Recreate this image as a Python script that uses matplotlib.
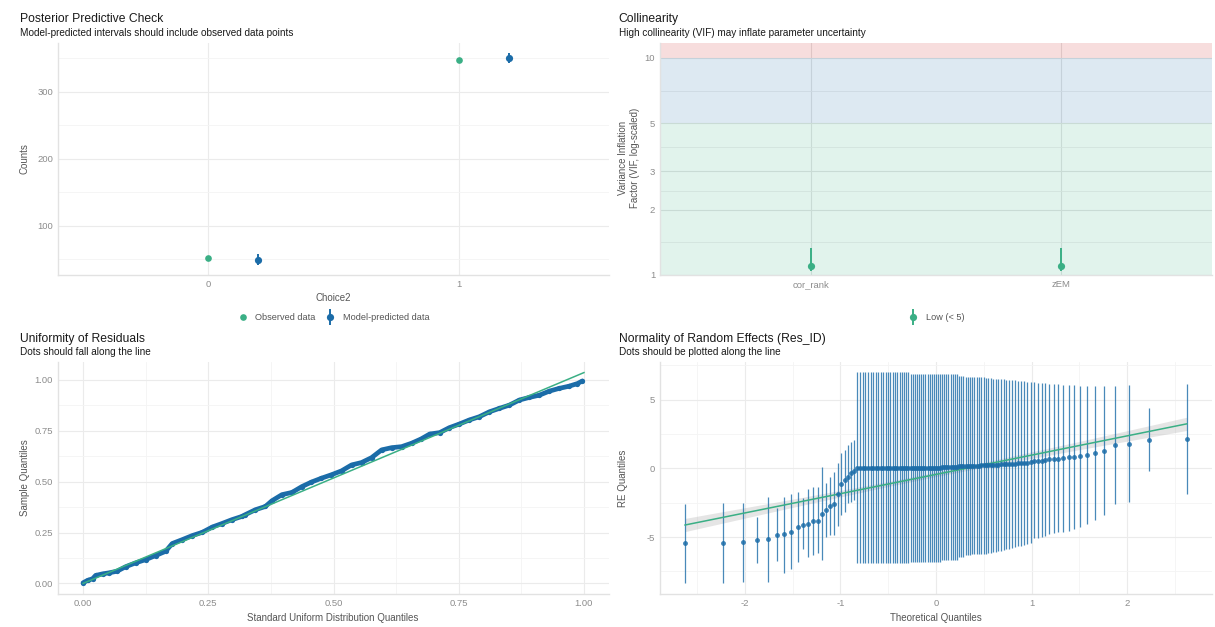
import matplotlib
matplotlib.use("Agg")
import matplotlib.pyplot as plt
from matplotlib.lines import Line2D
from matplotlib.legend_handler import HandlerTuple
from matplotlib.ticker import NullFormatter

plt.rcParams['font.family'] = ['Liberation Sans', 'DejaVu Sans']
plt.rcParams['axes.unicode_minus'] = False

# ---------------- data ----------------
# Panel 1: posterior predictive check
ppc_categories = ["0", "1"]
ppc_observed = [52, 347]
ppc_pred_mean = [49, 350]
ppc_pred_low = [41, 343]
ppc_pred_high = [57, 358]

# Panel 2: collinearity
vif_terms = ["cor_rank", "zEM"]
vif_values = [1.10, 1.10]
vif_low = [1.04, 1.04]
vif_high = [1.33, 1.33]
vif_ticks = [1, 2, 3, 5, 10]

# Panel 3: uniformity of residuals (QQ vs uniform)
unif_x = [0.000, 0.009, 0.019, 0.025, 0.039, 0.052, 0.068, 0.085, 0.105, 0.125,
          0.145, 0.165, 0.178, 0.198, 0.218, 0.238, 0.258, 0.277, 0.297, 0.317,
          0.324, 0.344, 0.364, 0.377, 0.397, 0.417, 0.437, 0.456, 0.476, 0.496,
          0.516, 0.536, 0.556, 0.576, 0.596, 0.616, 0.636, 0.656, 0.675, 0.692,
          0.712, 0.731, 0.751, 0.771, 0.791, 0.811, 0.831, 0.851, 0.871, 0.891,
          0.911, 0.931, 0.950, 0.970, 0.987, 0.997]
unif_y = [0.003, 0.015, 0.023, 0.039, 0.047, 0.052, 0.060, 0.082, 0.101, 0.117,
          0.137, 0.158, 0.196, 0.215, 0.235, 0.251, 0.277, 0.294, 0.313, 0.329,
          0.338, 0.362, 0.378, 0.406, 0.436, 0.447, 0.476, 0.498, 0.517, 0.534,
          0.553, 0.582, 0.594, 0.618, 0.656, 0.667, 0.672, 0.689, 0.710, 0.734,
          0.741, 0.765, 0.783, 0.803, 0.819, 0.843, 0.860, 0.876, 0.901, 0.914,
          0.925, 0.945, 0.958, 0.969, 0.982, 0.995]
unif_line_x = [0.0, 1.0]
unif_line_y = [0.0, 1.036]

# Panel 4: normality of random effects
re_x = [-2.624, -2.225, -2.019, -1.874, -1.761, -1.666, -1.584, -1.512, -1.447, -1.388,
        -1.333, -1.282, -1.234, -1.188, -1.145, -1.105, -1.065, -1.027, -0.991, -0.956,
        -0.922, -0.889, -0.857, -0.826, -0.796, -0.766, -0.737, -0.709, -0.681, -0.654,
        -0.627, -0.601, -0.575, -0.549, -0.524, -0.499, -0.475, -0.451, -0.427, -0.403,
        -0.380, -0.356, -0.333, -0.311, -0.288, -0.265, -0.243, -0.221, -0.199, -0.176,
        -0.154, -0.131, -0.109, -0.087, -0.065, -0.044, -0.022, 0.000,
        0.022, 0.044, 0.065, 0.087, 0.109, 0.131, 0.154, 0.176, 0.199, 0.221,
        0.243, 0.265, 0.288, 0.311, 0.333, 0.356, 0.380, 0.403, 0.427, 0.451,
        0.475, 0.499, 0.524, 0.549, 0.575, 0.601, 0.627, 0.654, 0.681, 0.709,
        0.737, 0.766, 0.796, 0.826, 0.857, 0.889, 0.922, 0.956, 0.991, 1.027,
        1.065, 1.105, 1.145, 1.188, 1.234, 1.282, 1.333, 1.388, 1.447, 1.512,
        1.584, 1.666, 1.761, 1.874, 2.019, 2.225, 2.624]
re_y = [-5.45, -5.45, -5.38, -5.23, -5.16, -4.82, -4.80, -4.63, -4.27, -4.10,
        -4.05, -3.83, -3.81, -3.30, -3.03, -2.74, -2.59, -1.87, -1.16, -0.85,
        -0.61, -0.32, -0.17,
        0.05, 0.05, 0.05, 0.05, 0.05, 0.05, 0.05, 0.05, 0.05, 0.05, 0.05,
        0.05, 0.05, 0.05, 0.05, 0.05, 0.05, 0.05, 0.05, 0.05, 0.05, 0.05,
        0.05, 0.05, 0.05, 0.05, 0.05, 0.05, 0.05, 0.05, 0.05, 0.05, 0.05,
        0.05, 0.05, 0.05, 0.05,
        0.07, 0.07, 0.07, 0.07, 0.07, 0.07, 0.07, 0.07,
        0.14, 0.14, 0.14,
        0.16, 0.17, 0.17, 0.18, 0.19, 0.19, 0.20, 0.21, 0.22, 0.23, 0.24,
        0.25, 0.26, 0.27, 0.28, 0.29, 0.30, 0.31, 0.32, 0.33, 0.35,
        0.36, 0.38, 0.40, 0.42, 0.45,
        0.51, 0.55, 0.55, 0.60, 0.65, 0.67, 0.70, 0.72, 0.80, 0.84,
        0.92, 0.97, 1.09, 1.26, 1.67, 1.79, 2.08, 2.13]
re_lo = [-8.31, -8.36, -8.24, -6.90, -8.24, -6.71, -7.58, -7.32, -6.81, -5.89,
         -6.42, -6.28, -6.18, -6.66, -4.97, -4.85, -4.85, -4.19, -3.39, -3.15,
         -2.54, -2.43, -2.30,
         -6.86, -6.86, -6.86, -6.86, -6.86, -6.86, -6.86, -6.86, -6.86, -6.86, -6.86,
         -6.86, -6.86, -6.86, -6.86, -6.86, -6.86, -6.86, -6.86, -6.86, -6.86, -6.86,
         -6.80, -6.80, -6.80, -6.80, -6.80, -6.80, -6.80, -6.80, -6.80, -6.80, -6.80,
         -6.80, -6.80, -6.80, -6.80,
         -6.66, -6.66, -6.66, -6.66, -6.66, -6.66, -6.66, -6.66,
         -6.42, -6.42, -6.42,
         -6.30, -6.28, -6.27, -6.26, -6.25, -6.25, -6.24, -6.23, -6.22, -6.20, -6.18,
         -6.15, -6.12, -6.08, -6.04, -6.00,
         -5.95, -5.90, -5.85, -5.78, -5.72, -5.66, -5.62, -5.58, -5.52, -5.45,
         -5.09, -5.04, -4.97, -4.90, -4.80, -4.72, -4.66, -4.60, -4.53, -4.41,
         -4.24, -4.07, -3.76, -3.39, -2.62, -2.43, -0.20, -1.89]
re_hi = [-2.60, -2.54, -2.50, -3.52, -2.06, -2.91, -2.06, -1.89, -1.75, -2.18,
         -1.53, -1.34, -1.38, 0.07, -1.09, -0.61, -0.25, 0.41, 1.09, 1.33,
         1.69, 1.93, 2.06,
         7.00, 7.00, 7.00, 7.00, 7.00, 7.00, 7.00, 7.00, 7.00, 7.00, 7.00,
         7.00, 7.00, 7.00, 7.00, 7.00, 7.00, 7.00, 7.00, 7.00, 7.00, 7.00,
         6.90, 6.90, 6.90, 6.90, 6.90, 6.90, 6.90, 6.90, 6.90, 6.90, 6.90,
         6.90, 6.90, 6.90, 6.90,
         6.85, 6.85, 6.85, 6.85, 6.85, 6.85, 6.85, 6.85,
         6.72, 6.72, 6.72,
         6.68, 6.68, 6.67, 6.67, 6.66, 6.66, 6.65, 6.64, 6.62, 6.60, 6.58,
         6.55, 6.53, 6.51, 6.50, 6.49, 6.47, 6.45, 6.43, 6.42, 6.40,
         6.38, 6.36, 6.34, 6.32, 6.30,
         6.25, 6.22, 6.20, 6.18, 6.15, 6.13, 6.12, 6.10, 6.07, 6.05,
         6.02, 6.00, 5.98, 5.98, 6.00, 6.05, 4.36, 6.13]
re_line_x = [-2.624, 2.624]
re_line_y = [-4.12, 3.24]
re_band_x = [-2.624, -1.5, -0.5, 0.0, 0.5, 1.5, 2.624]
re_band_lo = [-4.60, -2.84, -1.32, -0.60, 0.08, 1.36, 2.76]
re_band_hi = [-3.64, -2.24, -0.96, -0.28, 0.44, 1.96, 3.72]

# ---------------- style ----------------
BLUE = '#1b6ca8'
GREEN = '#3aaf85'
RED = '#cd201f'
GRID_MAJ = '#ebebeb'
GRID_MIN = '#f4f4f4'
AXLINE = '#e2e2e2'
TICKC = '#8c8c8c'
LABC = '#555555'
TITLEC = '#1a1a1a'

W, H = 1215, 627
fig = plt.figure(figsize=(W / 100, H / 100), dpi=100, facecolor='white')


def add_ax(l, t, r, b):
    return fig.add_axes([l / W, 1 - b / H, (r - l) / W, (b - t) / H])


def style(ax):
    for s in ['top', 'right']:
        ax.spines[s].set_visible(False)
    for s in ['left', 'bottom']:
        ax.spines[s].set_color(AXLINE)
        ax.spines[s].set_linewidth(1.0)
    ax.tick_params(which='both', length=0, pad=3.5, labelsize=6.8, labelcolor=TICKC)
    ax.set_axisbelow(True)
    ax.grid(True, which='major', color=GRID_MAJ, lw=0.8)
    ax.grid(True, which='minor', color=GRID_MIN, lw=0.6)


def ftext(x, y, s, **kw):
    fig.text(x / W, 1 - y / H, s, **kw)


def titles(x, ybase, title, subtitle):
    ftext(x, ybase, title, fontsize=8.7, color=TITLEC, va='baseline', ha='left')
    ftext(x, ybase + 13.6, subtitle, fontsize=7.2, color=TITLEC, va='baseline', ha='left')


def pr_handle(color):
    return (Line2D([], [], marker='|', ls='', color=color, ms=11, mew=1.4),
            Line2D([], [], marker='o', ls='', color=color, ms=5.2, mew=0))


# ---------------- Panel 1 ----------------
ax1 = add_ax(58, 43, 609, 275)
style(ax1)
cat_pos = list(range(len(ppc_categories)))
dodge = 0.2
ax1.plot(cat_pos, ppc_observed, 'o', color=GREEN, ms=4.8, mew=0, zorder=3)
pred_pos = [p + dodge for p in cat_pos]
ax1.vlines(pred_pos, ppc_pred_low, ppc_pred_high, color=BLUE, lw=1.4, zorder=3)
ax1.plot(pred_pos, ppc_pred_mean, 'o', color=BLUE, ms=5.2, mew=0, zorder=4)
ax1.set_xlim(-0.6, 1.6)
ax1.set_ylim(26, 373)
ax1.set_xticks(cat_pos)
ax1.set_xticklabels(ppc_categories)
ax1.set_yticks([100, 200, 300])
ax1.set_yticks([50, 150, 250, 350], minor=True)
ax1.yaxis.set_minor_formatter(NullFormatter())
titles(20, 22, "Posterior Predictive Check", "Model-predicted intervals should include observed data points")
ftext(333, 298, "Choice2", fontsize=7, color=LABC, ha='center', va='center')
ftext(25, 159, "Counts", fontsize=7, color=LABC, ha='center', va='center', rotation=90)
h_obs = Line2D([], [], marker='o', ls='', color=GREEN, ms=4.8, mew=0)
leg1 = ax1.legend([h_obs, pr_handle(BLUE)], ["Observed data", "Model-predicted data"],
                  handler_map={tuple: HandlerTuple(ndivide=1, pad=0)},
                  loc='center', bbox_to_anchor=(0.5, -0.185), ncol=2, frameon=False,
                  fontsize=6.6, handlelength=1.2, handletextpad=0.8, columnspacing=1.0)
for t in leg1.get_texts():
    t.set_color(LABC)

# ---------------- Panel 2 ----------------
ax2 = add_ax(660, 43, 1212, 275)
style(ax2)
ax2.set_yscale('log')
ax2.set_ylim(1, 11.7)
ax2.set_xlim(-0.6, 1.6)
ax2.axhspan(1, 5, color=GREEN, alpha=0.15, lw=0, zorder=1)
ax2.axhspan(5, 10, color=BLUE, alpha=0.15, lw=0, zorder=1)
ax2.axhspan(10, 11.7, color=RED, alpha=0.15, lw=0, zorder=1)
term_pos = list(range(len(vif_terms)))
ax2.vlines(term_pos, vif_low, vif_high, color=GREEN, lw=1.4, zorder=3)
ax2.plot(term_pos, vif_values, 'o', color=GREEN, ms=5.2, mew=0, zorder=4)
ax2.set_xticks(term_pos)
ax2.set_xticklabels(vif_terms)
ax2.set_yticks(vif_ticks)
ax2.set_yticklabels([str(v) for v in vif_ticks])
ax2.set_yticks([1.414, 2.449, 3.873, 7.071], minor=True)
ax2.yaxis.set_minor_formatter(NullFormatter())
ax2.grid(True, which='major', color='#e3e3e3', lw=0.8)
ax2.grid(True, which='minor', color='#ececec', lw=0.6)
titles(618.6, 22, "Collinearity", "High collinearity (VIF) may inflate parameter uncertainty")
ftext(629, 158, "Variance Inflation\nFactor (VIF, log-scaled)", fontsize=7, color=LABC,
      ha='center', va='center', rotation=90, linespacing=1.2)
leg2 = ax2.legend([pr_handle(GREEN)], ["Low (< 5)"],
                  handler_map={tuple: HandlerTuple(ndivide=1, pad=0)},
                  loc='center', bbox_to_anchor=(0.5, -0.185), frameon=False,
                  fontsize=6.6, handlelength=1.2, handletextpad=0.8)
for t in leg2.get_texts():
    t.set_color(LABC)

# ---------------- Panel 3 ----------------
ax3 = add_ax(58, 362, 609, 594)
style(ax3)
ax3.plot(unif_x, unif_y, '-', color=BLUE, lw=3.4, solid_capstyle='round', zorder=3)
ax3.plot(unif_x, unif_y, 'o', color=BLUE, ms=3.8, mew=0, zorder=3)
ax3.plot(unif_line_x, unif_line_y, '-', color=GREEN, lw=1.1, zorder=4)
ax3.set_xlim(-0.05, 1.05)
ax3.set_ylim(-0.052, 1.088)
ticks3 = [0.0, 0.25, 0.5, 0.75, 1.0]
ax3.set_xticks(ticks3)
ax3.set_xticklabels(["0.00", "0.25", "0.50", "0.75", "1.00"])
ax3.set_yticks(ticks3)
ax3.set_yticklabels(["0.00", "0.25", "0.50", "0.75", "1.00"])
minor3 = [0.125, 0.375, 0.625, 0.875]
ax3.set_xticks(minor3, minor=True)
ax3.set_yticks(minor3, minor=True)
ax3.xaxis.set_minor_formatter(NullFormatter())
ax3.yaxis.set_minor_formatter(NullFormatter())
titles(20.3, 341.7, "Uniformity of Residuals", "Dots should fall along the line")
ftext(333, 618, "Standard Uniform Distribution Quantiles", fontsize=7, color=LABC, ha='center', va='center')
ftext(25, 478, "Sample Quantiles", fontsize=7, color=LABC, ha='center', va='center', rotation=90)

# ---------------- Panel 4 ----------------
ax4 = add_ax(660, 362, 1212, 594)
style(ax4)
ax4.fill_between(re_band_x, re_band_lo, re_band_hi, color='#999999', alpha=0.25, lw=0, zorder=2)
ax4.vlines(re_x, re_lo, re_hi, color=BLUE, lw=0.9, alpha=0.8, zorder=3)
ax4.plot(re_line_x, re_line_y, '-', color=GREEN, lw=1.1, zorder=4)
ax4.plot(re_x, re_y, 'o', color=BLUE, ms=3.5, mew=0, alpha=0.85, zorder=5)
ax4.set_xlim(-2.886, 2.888)
ax4.set_ylim(-9.14, 7.74)
ax4.set_xticks([-2, -1, 0, 1, 2])
ax4.set_yticks([-5, 0, 5])
ax4.set_xticks([-2.5, -1.5, -0.5, 0.5, 1.5, 2.5], minor=True)
ax4.set_yticks([-7.5, -2.5, 2.5, 7.5], minor=True)
ax4.xaxis.set_minor_formatter(NullFormatter())
ax4.yaxis.set_minor_formatter(NullFormatter())
titles(618.6, 341.7, "Normality of Random Effects (Res_ID)", "Dots should be plotted along the line")
ftext(936, 618, "Theoretical Quantiles", fontsize=7, color=LABC, ha='center', va='center')
ftext(623, 478, "RE Quantiles", fontsize=7, color=LABC, ha='center', va='center', rotation=90)

fig.savefig("out.png", dpi=100, facecolor='white')
